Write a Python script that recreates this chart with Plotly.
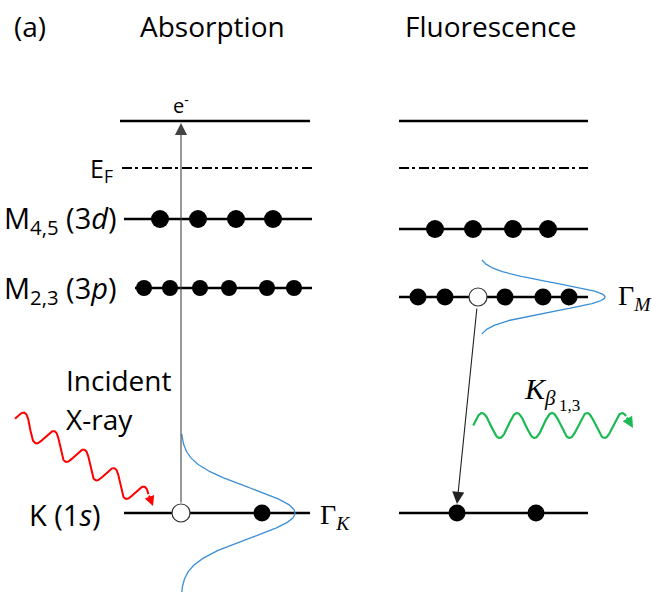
import numpy as np
import plotly.graph_objects as go

# ---------------- data (diagram geometry, in pixel units) ----------------
level_names = ["e", "EF", "M45", "M23", "K"]
abs_level_y = [121, 168, 219, 288, 513]
abs_level_x0 = [120, 122, 124, 135, 124]
abs_level_x1 = [310, 313, 312, 312, 310]
flu_level_y = [121, 168, 229, 297, 513]
flu_level_x0 = [399, 399, 399, 399, 399]
flu_level_x1 = [588, 588, 588, 588, 588]
level_dash = ["solid", "10px,3px,3px,4px", "solid", "solid", "solid"]

abs_m45_dots = [160, 198, 236, 273]
abs_m23_dots = [144, 170, 200, 229, 267, 294]
abs_k_dots = [262]
abs_k_hole = [181]
flu_m45_dots = [435, 473, 513, 548]
flu_m23_dots = [418, 445, 505, 543, 569]
flu_m23_hole = [478]
flu_k_dots = [457, 536]

# line-shape (Gaussian-like) parameters: center x, peak y, amplitude, width, half-range
abs_peak = dict(x0=181, y0=513, amp=114, sigma=25, half=79)
flu_peak = dict(x0=478, y0=297, amp=127, sigma=14, half=37)

W, H = 652, 597
fig = go.Figure()

# energy levels
for i, name in enumerate(level_names):
    for xs0, xs1, ys in ((abs_level_x0, abs_level_x1, abs_level_y),
                         (flu_level_x0, flu_level_x1, flu_level_y)):
        fig.add_trace(go.Scatter(
            x=[xs0[i], xs1[i]], y=[ys[i], ys[i]], mode="lines",
            line=dict(color="black", width=2.5 if level_dash[i] == "solid" else 2,
                      dash=level_dash[i]),
            hoverinfo="skip", showlegend=False))

# blue line shapes
for p in (abs_peak, flu_peak):
    yy = np.linspace(p["y0"] - p["half"], p["y0"] + p["half"], 200)
    xx = p["x0"] + p["amp"] * np.exp(-((yy - p["y0"]) ** 2) / (2 * p["sigma"] ** 2))
    fig.add_trace(go.Scatter(x=xx, y=yy, mode="lines",
                             line=dict(color="#3c8fd6", width=1.3),
                             hoverinfo="skip", showlegend=False))

# red incident wave (sine along a diagonal axis, skewed oscillation)
t = np.linspace(-0.25, 4.15, 500)
A0 = np.array([22.5, 423.4]); P = np.array([30.0, 18.5]); D = np.array([-0.234, 0.972])
amp = 10.7
rx = A0[0] + t * P[0] - amp * D[0] * np.cos(2 * np.pi * t)
ry = A0[1] + t * P[1] - amp * D[1] * np.cos(2 * np.pi * t)
fig.add_trace(go.Scatter(x=rx, y=ry, mode="lines", line=dict(color="#ff0000", width=2),
                         hoverinfo="skip", showlegend=False))

# green emitted wave
gx = np.linspace(473.25, 626, 400)
gy = 425.5 - 12.5 * np.sin(2 * np.pi * (gx - 473.25) / 35)
fig.add_trace(go.Scatter(x=gx, y=gy, mode="lines", line=dict(color="#1db954", width=2.2),
                         hoverinfo="skip", showlegend=False))

# transition lines (arrows drawn as annotations)
annotations = []
annotations.append(dict(x=181, y=123, ax=181, ay=504, xref="x", yref="y", axref="x", ayref="y",
                        showarrow=True, arrowhead=2, arrowsize=2.2, arrowwidth=1.1,
                        arrowcolor="#444444", text=""))
annotations.append(dict(x=457, y=504, ax=477, ay=307, xref="x", yref="y", axref="x", ayref="y",
                        showarrow=True, arrowhead=2, arrowsize=2.2, arrowwidth=1.1,
                        arrowcolor="#222222", text=""))
annotations.append(dict(x=153, y=506, ax=rx[-1], ay=ry[-1], xref="x", yref="y", axref="x", ayref="y",
                        showarrow=True, arrowhead=2, arrowsize=1.0, arrowwidth=2,
                        arrowcolor="#ff0000", text=""))
annotations.append(dict(x=633, y=428, ax=gx[-1], ay=gy[-1], xref="x", yref="y", axref="x", ayref="y",
                        showarrow=True, arrowhead=2, arrowsize=1.0, arrowwidth=2.2,
                        arrowcolor="#1db954", text=""))

# electrons
def dots(xs, y, filled=True, size=17):
    fig.add_trace(go.Scatter(
        x=xs, y=[y] * len(xs), mode="markers",
        marker=dict(size=size, color="black" if filled else "white",
                    line=dict(color="black" if filled else "#333333", width=0 if filled else 1.2)),
        hoverinfo="skip", showlegend=False))

dots(abs_m45_dots, abs_level_y[2], size=18)
dots(abs_m23_dots, abs_level_y[3], size=16)
dots(abs_k_dots, abs_level_y[4], size=17)
dots(abs_k_hole, abs_level_y[4], filled=False, size=18)
dots(flu_m45_dots, flu_level_y[2], size=18)
dots(flu_m23_dots, flu_level_y[3], size=17)
dots(flu_m23_hole, flu_level_y[3], filled=False, size=18)
dots(flu_k_dots, flu_level_y[4], size=17)

# text
sans = "Open Sans"
serif = "Liberation Serif"
def txt(x, y, s, size, xanchor="center", family=sans, yanchor="middle"):
    annotations.append(dict(x=x, y=y, xref="x", yref="y", text=s, showarrow=False,
                            xanchor=xanchor, yanchor=yanchor,
                            font=dict(family=family, size=size, color="black")))

txt(12, 26, "(a)", 28, xanchor="left")
txt(212, 26, "Absorption", 28)
txt(491, 26, "Fluorescence", 28)
txt(181, 104, "e<sup>-</sup>", 20)
txt(115, 169, "E<sub>F</sub>", 25, xanchor="right")
txt(119, 219, "M<sub>4,5</sub> (3<i>d</i>)", 29, xanchor="right")
txt(119, 289, "M<sub>2,3</sub> (3<i>p</i>)", 29, xanchor="right")
txt(103, 514, "K (1<i>s</i>)", 29, xanchor="right")
txt(64, 380, "Incident", 28, xanchor="left")
txt(64, 419, "X-ray", 28, xanchor="left")
txt(318, 516, "Γ<sub><i>K</i></sub>", 28, xanchor="left", family=serif)
txt(616, 297, "Γ<sub><i>M</i></sub>", 28, xanchor="left", family=serif)
txt(522, 391, "<i>K</i><sub><i>β</i></sub>", 30, xanchor="left", family=serif)
txt(557, 405, "1,3", 17, xanchor="left", family=serif)

fig.update_layout(
    width=W, height=H, autosize=False,
    margin=dict(l=0, r=0, t=0, b=0),
    paper_bgcolor="white", plot_bgcolor="white",
    xaxis=dict(range=[0, W], visible=False, fixedrange=True),
    yaxis=dict(range=[H, 0], visible=False, fixedrange=True),
    annotations=annotations,
    showlegend=False,
)
fig.write_html("out.html")
